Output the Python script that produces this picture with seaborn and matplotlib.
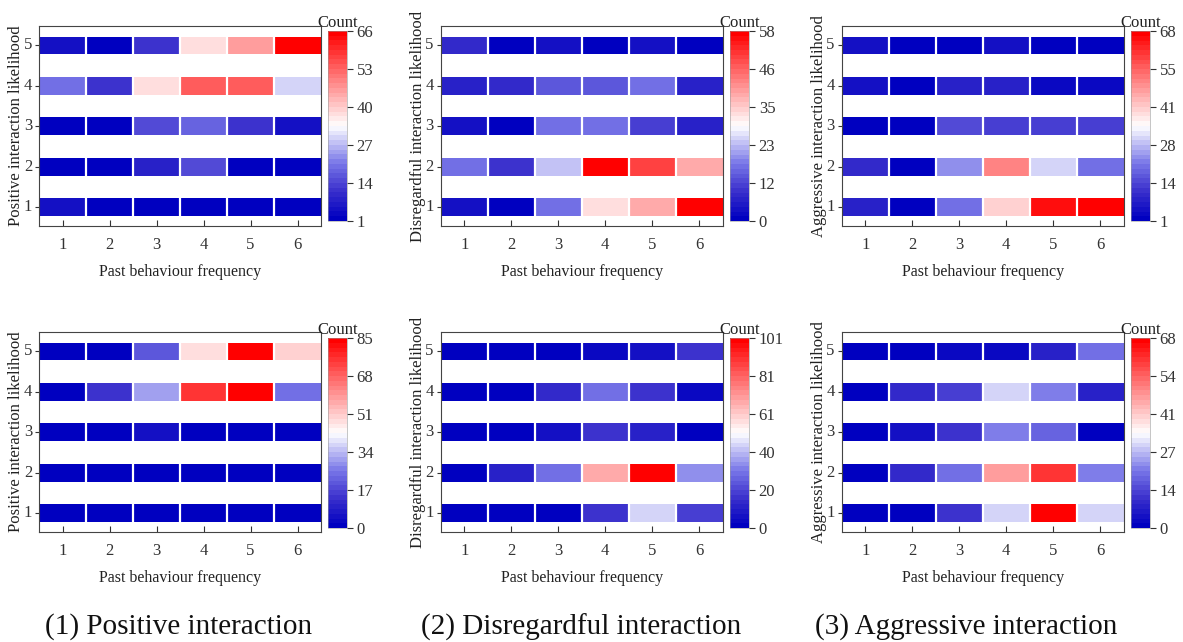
import numpy as np
import matplotlib
matplotlib.use("Agg")
import matplotlib.pyplot as plt
import seaborn as sns
from matplotlib.colors import LinearSegmentedColormap

# ---------------- data (rows: likelihood 1..5, cols: past behaviour freq 1..6)
freq = [1, 2, 3, 4, 5, 6]
likelihood = [1, 2, 3, 4, 5]

pos_top = [
    [5, 1, 1, 1, 1, 1],
    [1, 1, 8, 14, 1, 1],
    [1, 1, 15, 18, 11, 5],
    [20, 11, 38, 53, 53, 29],
    [5, 1, 12, 37, 46, 66],
]
dis_top = [
    [3, 0, 16, 33, 39, 57],
    [17, 9, 24, 58, 50, 39],
    [4, 0, 17, 16, 11, 7],
    [6, 8, 14, 14, 16, 7],
    [8, 0, 4, 0, 3, 0],
]
agg_top = [
    [9, 1, 20, 40, 66, 68],
    [11, 1, 24, 50, 31, 20],
    [2, 2, 16, 14, 14, 14],
    [5, 2, 8, 8, 3, 3],
    [6, 2, 2, 5, 1, 1],
]
pos_bot = [
    [0, 0, 0, 0, 0, 0],
    [0, 0, 0, 0, 0, 0],
    [0, 1, 5, 1, 1, 0],
    [0, 13, 30, 75, 85, 25],
    [0, 0, 20, 47, 83, 50],
]
dis_bot = [
    [0, 0, 1, 16, 44, 20],
    [0, 12, 30, 68, 101, 33],
    [0, 1, 6, 17, 12, 0],
    [0, 0, 13, 30, 17, 4],
    [0, 0, 1, 5, 6, 16],
]
agg_bot = [
    [0, 0, 11, 30, 68, 29],
    [0, 9, 20, 46, 60, 21],
    [0, 5, 11, 21, 18, 0],
    [1, 9, 12, 29, 21, 7],
    [0, 0, 3, 3, 8, 20],
]

ylabels = ["Positive interaction likelihood",
           "Disregardful interaction likelihood",
           "Aggressive interaction likelihood"]
xlabel = "Past behaviour frequency"
captions = ["(1) Positive interaction", "(2) Disregardful interaction",
            "(3) Aggressive interaction"]

panels = [[pos_top, dis_top, agg_top], [pos_bot, dis_bot, agg_bot]]

# ---------------- style
sns.set_style("white")
plt.rcParams["font.family"] = ["Liberation Serif", "DejaVu Serif"]
plt.rcParams["text.color"] = "#222222"
plt.rcParams["axes.labelcolor"] = "#222222"
plt.rcParams["xtick.color"] = "#333333"
plt.rcParams["ytick.color"] = "#333333"

cmap = LinearSegmentedColormap.from_list(
    "bwr_custom",
    [(0.0, "#0000C0"), (0.15, "#3A30CC"), (0.3, "#7A78E8"),
     (0.5, "#FFFFFF"), (1.0, "#FF0000")], N=40)

W, H = 1183, 642
fig = plt.figure(figsize=(W / 100, H / 100), dpi=100)

col_left = [39, 440.7, 841.7]
cbar_left = [328, 730, 1131]
row_top = [26, 332]
cbar_top = [31, 338]
ax_w, ax_h = 282, 200
cb_w, cb_h = 19, 190

y_hi, y_lo, step, half = 5.48, 0.54, 0.02, 0.225
n_sub = int(round((y_hi - y_lo) / step))
centers = y_hi - (np.arange(n_sub) + 0.5) * step


def band_matrix(vals):
    arr = np.array(vals, dtype=float)
    out = np.full((n_sub, arr.shape[1]), np.nan)
    for i, yc in enumerate(centers):
        k = int(round(yc))
        if 1 <= k <= 5 and abs(yc - k) <= half:
            out[i] = arr[k - 1]
    return out


for r in range(2):
    for c in range(3):
        vals = panels[r][c]
        arr = np.array(vals, dtype=float)
        vmin, vmax = arr.min(), arr.max()
        ax = fig.add_axes([col_left[c] / W, 1 - (row_top[r] + ax_h) / H,
                           ax_w / W, ax_h / H])
        cax = fig.add_axes([cbar_left[c] / W, 1 - (cbar_top[r] + cb_h) / H,
                            cb_w / W, cb_h / H])
        sns.heatmap(band_matrix(vals), ax=ax, cmap=cmap, vmin=vmin, vmax=vmax,
                    cbar_ax=cax, xticklabels=False, yticklabels=False)
        ax.vlines([1, 2, 3, 4, 5], 0, n_sub, colors="white", linewidth=1.6)
        for s in ax.spines.values():
            s.set_visible(True)
            s.set_color("#444444")
            s.set_linewidth(0.8)
        ax.set_xticks(np.arange(len(freq)) + 0.5)
        ax.set_xticklabels([str(f) for f in freq])
        ax.set_yticks([(y_hi - k) / step for k in likelihood])
        ax.set_yticklabels([str(k) for k in likelihood], rotation=0,
                           va="center")
        ax.tick_params(axis="x", direction="in", length=4, width=0.8,
                       labelsize=12, pad=8, bottom=True)
        ax.tick_params(axis="y", direction="out", length=3, width=0.8,
                       labelsize=12, pad=2, left=True)
        ax.set_xlabel(xlabel, fontsize=11.5, labelpad=8)
        ax.set_ylabel(ylabels[c], fontsize=12)
        ax.yaxis.set_label_coords(-15 / ax_w, 0.5)

        cb = ax.collections[0].colorbar
        ticks = np.linspace(vmin, vmax, 6)
        cb.set_ticks(ticks)
        cb.set_ticklabels([str(int(round(t))) for t in ticks])
        cb.ax.tick_params(labelsize=12, length=4, width=0.8, direction="out",
                          pad=3, colors="#333333")
        cb.outline.set_linewidth(0.4)
        cb.outline.set_edgecolor("#999999")
        cax.set_title("Count", fontsize=12, pad=3)

for c in range(3):
    xc = [179, 581, 966][c]
    fig.text(xc / W, 1 - 627 / H, captions[c], ha="center", va="center",
             fontsize=21, color="#111111")

fig.savefig("out.png", dpi=100)
